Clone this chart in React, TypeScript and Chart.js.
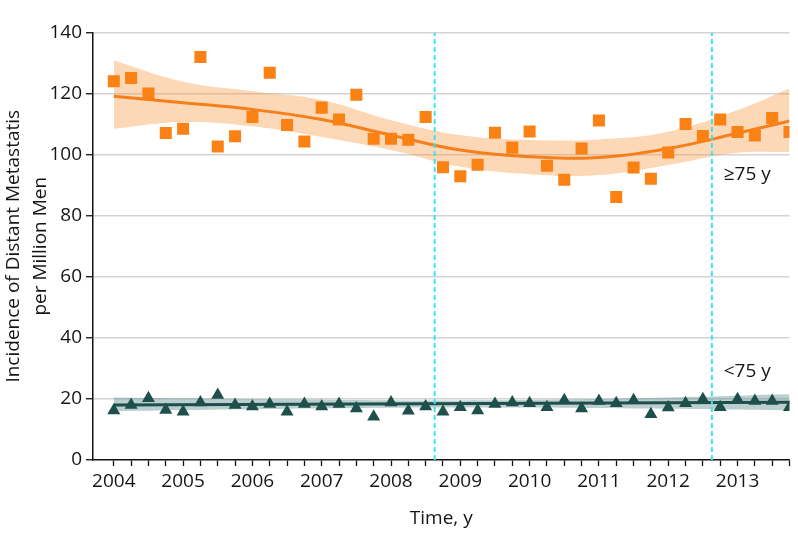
import React, { useEffect, useRef } from 'react';
import { Chart, registerables } from 'chart.js';

Chart.register(...registerables);

// Quarterly observation times
const quarters = [
  2004, 2004.25, 2004.5, 2004.75, 2005, 2005.25, 2005.5, 2005.75,
  2006, 2006.25, 2006.5, 2006.75, 2007, 2007.25, 2007.5, 2007.75,
  2008, 2008.25, 2008.5, 2008.75, 2009, 2009.25, 2009.5, 2009.75,
  2010, 2010.25, 2010.5, 2010.75, 2011, 2011.25, 2011.5, 2011.75,
  2012, 2012.25, 2012.5, 2012.75, 2013, 2013.25, 2013.5, 2013.75,
];

// Men aged >=75 y (orange squares)
const olderValues = [
  124.0, 125.1, 120.0, 107.1, 108.5, 132.0, 102.7, 106.0, 112.3, 126.8,
  109.7, 104.3, 115.4, 111.5, 119.6, 105.2, 105.2, 104.9, 112.3, 95.9,
  92.9, 96.7, 107.2, 102.3, 107.6, 96.4, 91.8, 102.0, 111.2, 86.1,
  95.8, 92.1, 100.7, 110.0, 106.1, 111.5, 107.4, 106.3, 112.0, 107.4,
];

// Men aged <75 y (dark teal triangles)
const youngerValues = [
  16.2, 18.0, 20.2, 16.4, 15.8, 18.8, 21.3, 18.0, 17.5, 18.3,
  15.8, 18.3, 17.5, 18.3, 16.9, 14.2, 18.8, 16.1, 17.5, 15.8,
  17.3, 16.2, 18.3, 18.8, 18.6, 17.3, 19.6, 16.9, 19.3, 18.6,
  19.6, 15.0, 17.2, 18.6, 19.9, 17.3, 19.9, 19.3, 19.3, 17.3,
];

// Fitted trend and confidence band, >=75 y
const olderFitYears = [2004, 2005, 2006, 2007, 2008, 2009, 2010, 2011, 2012, 2013, 2013.75];
const olderFit = [119.1, 117.0, 114.8, 111.5, 106.4, 101.5, 99.3, 99.1, 102.0, 107.0, 111.0];
const olderUpper = [130.8, 123.9, 120.8, 117.9, 111.3, 106.4, 104.8, 105.0, 107.5, 114.6, 121.7];
const olderLower = [108.5, 110.7, 109.3, 105.8, 101.5, 96.0, 93.6, 93.3, 96.6, 100.6, 100.9];

// Fitted trend and confidence band, <75 y
const youngerFitYears = [2004, 2013.75];
const youngerFit = [18.0, 18.9];
const youngerBandYears = [2004, 2006.5, 2009, 2011.5, 2013.75];
const youngerUpper = [20.5, 19.9, 19.5, 20.2, 21.5];
const youngerLower = [16.0, 16.8, 17.2, 16.9, 16.3];

// Guideline change dates (vertical dashed lines)
const policyDates = [2008.63, 2012.63];

// Series labels and their anchors (data coordinates)
const seriesLabels = ['≥75 y', '<75 y'];
const labelAnchorX = 2012.8;
const labelAnchorY = [93.4, 28.9];

const xTitle = 'Time, y';
const yTitle = ['Incidence of Distant Metastatis', 'per Million Men'];

const FONT = '"Open Sans", "Noto Sans", sans-serif';
const TEXT = '#151515';
const ORANGE = '#FA8114';
const ORANGE_LINE = '#F57F1A';
const ORANGE_BAND = 'rgba(250,150,60,0.37)';
const TEAL = '#1F4F4B';
const TEAL_BAND = 'rgba(90,140,138,0.42)';
const CYAN = '#3CE2EE';

const zip = (xs: number[], ys: number[]) => xs.map((x, i) => ({ x, y: ys[i] }));

const labelPlugin = {
  id: 'seriesLabels',
  afterDatasetsDraw(chart: any) {
    const { ctx, scales } = chart;
    const x = scales.x;
    const y = scales.y;
    ctx.save();
    ctx.font = `19px ${FONT}`;
    ctx.fillStyle = TEXT;
    ctx.textAlign = 'left';
    ctx.textBaseline = 'middle';
    seriesLabels.forEach((t, i) => {
      ctx.fillText(t, x.getPixelForValue(labelAnchorX), y.getPixelForValue(labelAnchorY[i]));
    });
    ctx.restore();
  },
};

export default function App() {
  const canvasRef = useRef<HTMLCanvasElement | null>(null);

  useEffect(() => {
    document.body.style.margin = '0';
    const canvas = canvasRef.current;
    if (!canvas) return;

    const band = (xs: number[], ys: number[], color: string, fill: any) => ({
      type: 'line' as const,
      data: zip(xs, ys),
      borderWidth: 0,
      borderColor: 'rgba(0,0,0,0)',
      backgroundColor: color,
      pointRadius: 0,
      tension: 0.4,
      fill,
      order: 4,
    });

    const datasets: any[] = [
      {
        type: 'line',
        data: zip(quarters, olderValues),
        showLine: false,
        pointStyle: 'rect',
        pointRadius: 8.5,
        pointBackgroundColor: ORANGE,
        pointBorderWidth: 0,
        order: 0,
      },
      {
        type: 'line',
        data: zip(quarters, youngerValues),
        showLine: false,
        pointStyle: 'triangle',
        pointRadius: 7.5,
        pointBackgroundColor: TEAL,
        pointBorderWidth: 0,
        order: 0,
      },
      ...policyDates.map((d) => ({
        type: 'line',
        data: [
          { x: d, y: 0 },
          { x: d, y: 140 },
        ],
        borderColor: CYAN,
        borderWidth: 2,
        borderDash: [5, 3],
        pointRadius: 0,
        fill: false,
        order: 1,
      })),
      {
        type: 'line',
        data: zip(olderFitYears, olderFit),
        borderColor: ORANGE_LINE,
        borderWidth: 3,
        pointRadius: 0,
        tension: 0.4,
        fill: false,
        order: 2,
      },
      {
        type: 'line',
        data: zip(youngerFitYears, youngerFit),
        borderColor: TEAL,
        borderWidth: 3,
        pointRadius: 0,
        fill: false,
        order: 2,
      },
      band(olderFitYears, olderUpper, ORANGE_BAND, '+1'),
      band(olderFitYears, olderLower, ORANGE_BAND, false),
      band(youngerBandYears, youngerUpper, TEAL_BAND, '+1'),
      band(youngerBandYears, youngerLower, TEAL_BAND, false),
    ];

    const chart = new Chart(canvas, {
      type: 'line',
      data: { datasets },
      plugins: [labelPlugin],
      options: {
        animation: false,
        responsive: true,
        maintainAspectRatio: false,
        layout: { padding: { top: 32.5, right: 8, left: 0, bottom: 0 } },
        plugins: {
          legend: { display: false },
          tooltip: { enabled: false },
        },
        scales: {
          x: {
            type: 'linear',
            min: 2003.7,
            max: 2013.75,
            afterBuildTicks: (s: any) => {
              s.ticks = quarters.map((v) => ({ value: v }));
            },
            afterFit: (s: any) => {
              s.height = 86;
            },
            grid: {
              drawOnChartArea: false,
              drawTicks: true,
              tickLength: 6,
              tickColor: '#111',
              tickWidth: 1.3,
            },
            border: { color: '#111', width: 1.5 },
            ticks: {
              autoSkip: false,
              maxRotation: 0,
              padding: 4,
              color: TEXT,
              font: { family: FONT, size: 19 },
              callback: (v: any) => (Number.isInteger(Number(v)) ? String(v) : ''),
            },
            title: {
              display: true,
              text: xTitle,
              color: TEXT,
              font: { family: FONT, size: 19 },
              padding: { top: 0, bottom: 16 },
            },
          },
          y: {
            type: 'linear',
            min: 0,
            max: 140,
            afterFit: (s: any) => {
              s.width = 93;
            },
            ticks: {
              stepSize: 20,
              padding: 4,
              color: TEXT,
              font: { family: FONT, size: 19 },
            },
            grid: {
              color: (c: any) => (c.tick && c.tick.value === 0 ? 'rgba(0,0,0,0)' : '#d3d3d3'),
              lineWidth: 1.5,
              drawTicks: true,
              tickLength: 7,
              tickColor: '#111',
              tickWidth: 1.3,
            },
            border: { color: '#111', width: 1.5 },
            title: {
              display: true,
              text: yTitle,
              color: TEXT,
              font: { family: FONT, size: 19, lineHeight: 1.42 },
              padding: { top: 0, bottom: 0 },
            },
          },
        },
      },
    } as any);

    return () => {
      chart.destroy();
    };
  }, []);

  return (
    <div style={{ position: 'relative', width: 798, height: 546, background: '#fff' }}>
      <canvas ref={canvasRef} />
    </div>
  );
}
